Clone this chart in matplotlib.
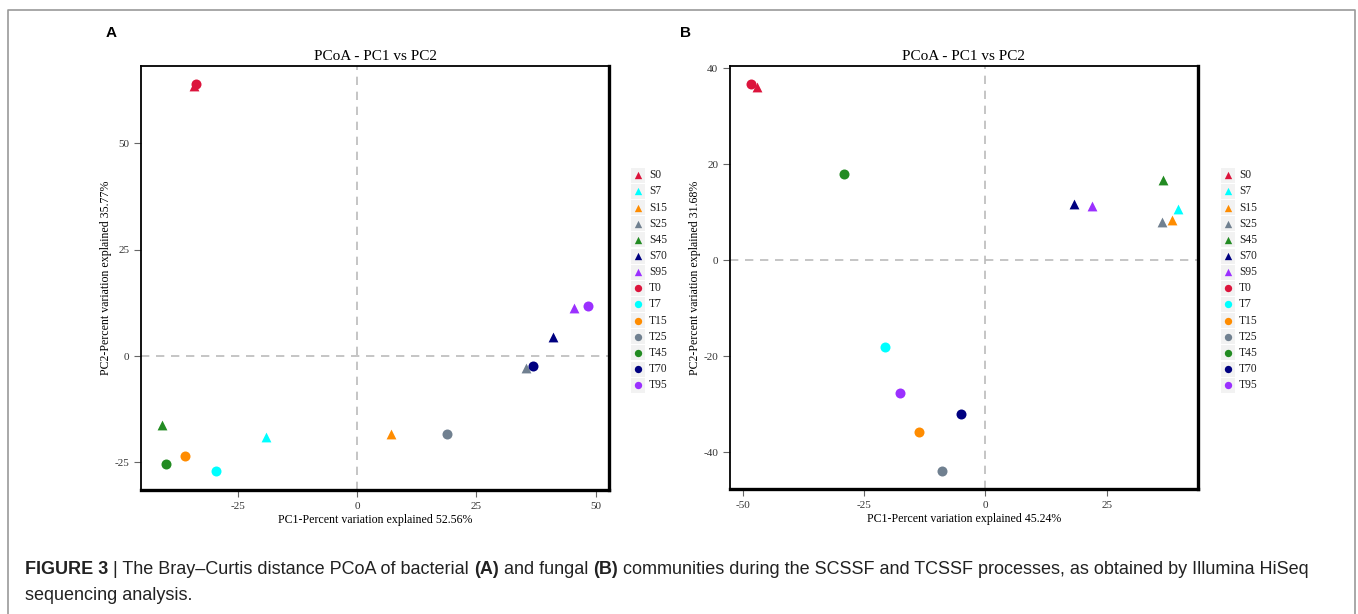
import matplotlib
matplotlib.use('Agg')
import matplotlib.pyplot as plt
from matplotlib.lines import Line2D
from matplotlib.patches import Rectangle

plt.rcParams['axes.unicode_minus'] = False

W, H = 1358, 614

# samples and styles
samples = ['S0', 'S7', 'S15', 'S25', 'S45', 'S70', 'S95',
           'T0', 'T7', 'T15', 'T25', 'T45', 'T70', 'T95']
colors = ['#DC143C', '#00FFFF', '#FF8C00', '#708090', '#228B22', '#000080', '#9B30FF'] * 2
markers = ['^'] * 7 + ['o'] * 7

# panel A (bacteria)
a_pc1 = [-34.1, -19.1, 7.0, 35.4, -40.9, 41.1, 45.4,
         -33.7, -29.5, -36.0, 18.8, -40.0, 36.9, 48.5]
a_pc2 = [63.5, -19.0, -18.3, -2.8, -16.2, 4.5, 11.4,
         64.0, -27.1, -23.4, -18.3, -25.3, -2.3, 11.8]
a_xlabel = 'PC1-Percent variation explained 52.56%'
a_ylabel = 'PC2-Percent variation explained 35.77%'
a_xticks = [-25, 0, 25, 50]
a_yticks = [-25, 0, 25, 50]

# panel B (fungi)
b_pc1 = [-47.1, 39.6, 38.4, 36.4, 36.5, 18.3, 22.0,
         -48.3, -20.7, -13.7, -9.0, -29.1, -5.1, -17.6]
b_pc2 = [36.2, 10.7, 8.3, 7.9, 16.7, 11.8, 11.4,
         36.7, -18.0, -35.9, -44.0, 17.9, -32.0, -27.6]
b_xlabel = 'PC1-Percent variation explained 45.24%'
b_ylabel = 'PC2-Percent variation explained 31.68%'
b_xticks = [-50, -25, 0, 25]
b_yticks = [-40, -20, 0, 20, 40]

title = 'PCoA - PC1 vs PC2'
serif = ['Liberation Serif', 'DejaVu Serif']
sans = ['Liberation Sans', 'DejaVu Sans']


def px_box(x0, y0, x1, y1):
    # pixel box (top-left origin) -> figure fraction rect
    return [x0 / W, 1 - y1 / H, (x1 - x0) / W, (y1 - y0) / H]


fig = plt.figure(figsize=(W / 100, H / 100), dpi=100)

# outer frame, open at the bottom
fig.add_artist(Line2D([8 / W, 8 / W, 1355 / W, 1355 / W],
                      [0, 1 - 10 / H, 1 - 10 / H, 0],
                      transform=fig.transFigure, color='#999999', lw=1.2))


def draw_panel(box, xs, ys, xlim, ylim, xticks, yticks, xlabel, ylabel, leg_x, letter, letter_x):
    ax = fig.add_axes(px_box(*box))
    ax.axvline(0, color='#BBBBBB', ls=(0, (5, 4)), lw=1.2, zorder=1)
    ax.axhline(0, color='#BBBBBB', ls=(0, (5, 4)), lw=1.2, zorder=1)
    for x, y, c, m in zip(xs, ys, colors, markers):
        ax.scatter(x, y, s=52 if m == 'o' else 50, c=c, marker=m, linewidths=0, zorder=3)
    ax.set_xlim(*xlim)
    ax.set_ylim(*ylim)
    ax.set_xticks(xticks)
    ax.set_yticks(yticks)
    ax.tick_params(direction='out', length=5, width=0.8, color='#666666',
                   labelsize=8, labelcolor='#333333')
    for lab in ax.get_xticklabels() + ax.get_yticklabels():
        lab.set_family(serif)
    for side, sp in ax.spines.items():
        sp.set_color('black')
        sp.set_linewidth(2.4 if side in ('right', 'bottom') else 1.3)
    ax.set_title(title, fontsize=11, family=serif, pad=4)
    ax.set_xlabel(xlabel, fontsize=8.6, family=serif, labelpad=2)
    ax.set_ylabel(ylabel, fontsize=8.6, family=serif, labelpad=2)

    # legend drawn in pixel coordinates
    lg = fig.add_axes(px_box(leg_x - 12, 165, leg_x + 40, 395))
    lg.set_xlim(leg_x - 12, leg_x + 40)
    lg.set_ylim(395, 165)
    lg.axis('off')
    for i, (name, c, m) in enumerate(zip(samples, colors, markers)):
        y = 175.3 + i * 16.15
        lg.add_patch(Rectangle((leg_x - 7, y - 7.5), 14, 15, color='#F2F2F2', lw=0))
        lg.scatter(leg_x, y, s=28 if m == 'o' else 28, c=c, marker=m, linewidths=0)
        lg.text(leg_x + 11, y, name, fontsize=8.3, family=serif, va='center', ha='left',
                color='#222222')

    fig.text(letter_x / W, 1 - 33 / H, letter, fontsize=11, fontweight='bold',
             family=sans, va='center', ha='left')
    return ax


draw_panel((141, 66, 609, 490), a_pc1, a_pc2, (-45.3, 52.8), (-31.5, 68.2),
           a_xticks, a_yticks, a_xlabel, a_ylabel, 638, 'A', 106)
draw_panel((730, 66, 1198, 489), b_pc1, b_pc2, (-52.6, 43.8), (-47.7, 40.5),
           b_xticks, b_yticks, b_xlabel, b_ylabel, 1228, 'B', 680)

# caption, mixing bold and regular runs
cap_font = ['Liberation Sans', 'DejaVu Sans']
line1 = [('FIGURE 3', 'bold'), (' | The Bray\u2013Curtis distance PCoA of bacterial ', 'normal'),
         ('(A)', 'bold'), (' and fungal ', 'normal'), ('(B)', 'bold'),
         (' communities during the SCSSF and TCSSF processes, as obtained by Illumina HiSeq', 'normal')]
line2 = [('sequencing analysis.', 'normal')]

fig.canvas.draw()
renderer = fig.canvas.get_renderer()
for runs, ypix in ((line1, 570), (line2, 596)):
    x = 25
    for txt, wt in runs:
        t = fig.text(x / W, 1 - ypix / H, txt, fontsize=13, fontweight=wt,
                     family=cap_font, va='center', ha='left', color='#222222')
        bb = t.get_window_extent(renderer=renderer)
        x += bb.width

fig.savefig('out.png', dpi=100)
